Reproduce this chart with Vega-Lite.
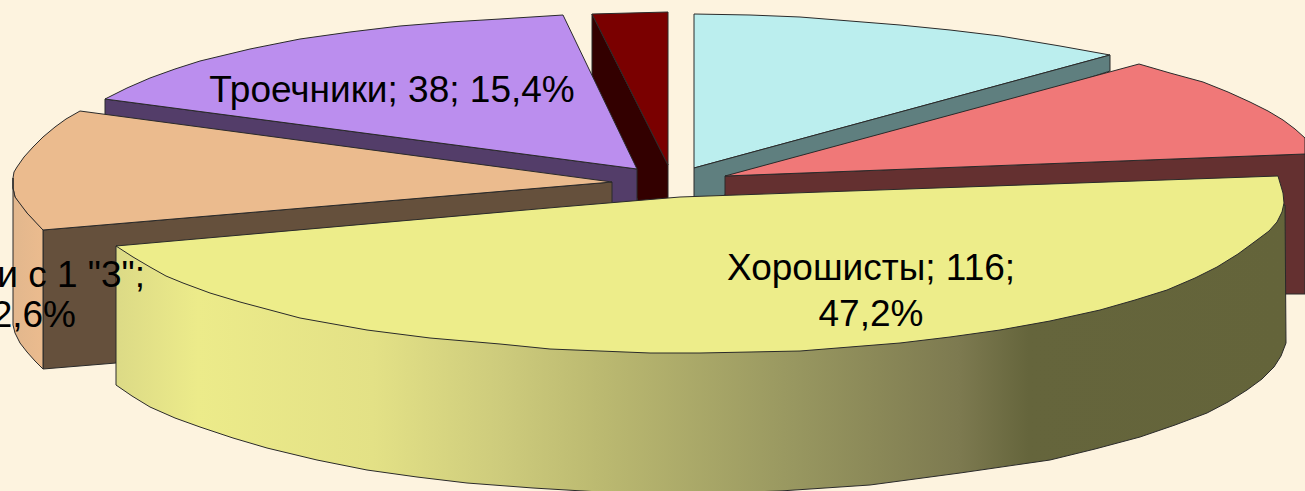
{
"$schema":"https://vega.github.io/schema/vega-lite/v6.json",
"width":1305,"height":491,"padding":0,"autosize":{"type":"none"},
"background":"#fdf3df",
"config":{"view":{"stroke":null}},
"datasets":{
"outline":[
{"p":"cyan top","i":0,"x":694,"y":14},{"p":"cyan top","i":1,"x":750,"y":15},{"p":"cyan top","i":2,"x":800,"y":17},{"p":"cyan top","i":3,"x":850,"y":21},{"p":"cyan top","i":4,"x":900,"y":25},{"p":"cyan top","i":5,"x":950,"y":30},{"p":"cyan top","i":6,"x":1000,"y":36},{"p":"cyan top","i":7,"x":1060,"y":46},{"p":"cyan top","i":8,"x":1110,"y":55},{"p":"cyan top","i":9,"x":694,"y":168},{"p":"cyan top","i":10,"x":694,"y":14},
{"p":"cyan side","i":0,"x":694,"y":168},{"p":"cyan side","i":1,"x":1110,"y":55},{"p":"cyan side","i":2,"x":1110,"y":71},{"p":"cyan side","i":3,"x":694,"y":205},{"p":"cyan side","i":4,"x":694,"y":168},
{"p":"maroon side","i":0,"x":592,"y":14},{"p":"maroon side","i":1,"x":668,"y":165},{"p":"maroon side","i":2,"x":668,"y":205},{"p":"maroon side","i":3,"x":640,"y":205},{"p":"maroon side","i":4,"x":592,"y":100},{"p":"maroon side","i":5,"x":592,"y":14},
{"p":"maroon top","i":0,"x":592,"y":14},{"p":"maroon top","i":1,"x":668,"y":12},{"p":"maroon top","i":2,"x":668,"y":165},{"p":"maroon top","i":3,"x":592,"y":14},
{"p":"purple side","i":0,"x":105,"y":99},{"p":"purple side","i":1,"x":637,"y":169},{"p":"purple side","i":2,"x":637,"y":205},{"p":"purple side","i":3,"x":612,"y":205},{"p":"purple side","i":4,"x":105,"y":130},{"p":"purple side","i":5,"x":105,"y":99},
{"p":"purple top","i":0,"x":105,"y":99},{"p":"purple top","i":1,"x":127,"y":88},{"p":"purple top","i":2,"x":150,"y":78},{"p":"purple top","i":3,"x":175,"y":69},{"p":"purple top","i":4,"x":200,"y":61},{"p":"purple top","i":5,"x":250,"y":49},{"p":"purple top","i":6,"x":300,"y":39},{"p":"purple top","i":7,"x":350,"y":32},{"p":"purple top","i":8,"x":400,"y":26},{"p":"purple top","i":9,"x":450,"y":22},{"p":"purple top","i":10,"x":500,"y":19},{"p":"purple top","i":11,"x":563,"y":15},{"p":"purple top","i":12,"x":637,"y":169},{"p":"purple top","i":13,"x":105,"y":99},
{"p":"brown side","i":0,"x":43,"y":230},{"p":"brown side","i":1,"x":612,"y":182},{"p":"brown side","i":2,"x":612,"y":215},{"p":"brown side","i":3,"x":130,"y":300},{"p":"brown side","i":4,"x":116,"y":363},{"p":"brown side","i":5,"x":43,"y":369},{"p":"brown side","i":6,"x":43,"y":230},
{"p":"peach top","i":0,"x":80,"y":111},{"p":"peach top","i":1,"x":612,"y":182},{"p":"peach top","i":2,"x":43,"y":230},{"p":"peach top","i":3,"x":35,"y":222},{"p":"peach top","i":4,"x":27,"y":213},{"p":"peach top","i":5,"x":20,"y":205},{"p":"peach top","i":6,"x":15,"y":197},{"p":"peach top","i":7,"x":13,"y":188},{"p":"peach top","i":8,"x":13,"y":178},{"p":"peach top","i":9,"x":14,"y":172},{"p":"peach top","i":10,"x":17,"y":167},{"p":"peach top","i":11,"x":24,"y":157},{"p":"peach top","i":12,"x":33,"y":147},{"p":"peach top","i":13,"x":43,"y":137},{"p":"peach top","i":14,"x":55,"y":127},{"p":"peach top","i":15,"x":66,"y":119},{"p":"peach top","i":16,"x":80,"y":111},
{"p":"red side","i":0,"x":725,"y":176},{"p":"red side","i":1,"x":1305,"y":154},{"p":"red side","i":2,"x":1305,"y":294},{"p":"red side","i":3,"x":1285,"y":294},{"p":"red side","i":4,"x":725,"y":300},{"p":"red side","i":5,"x":725,"y":176},
{"p":"red top","i":0,"x":725,"y":176},{"p":"red top","i":1,"x":1139,"y":64},{"p":"red top","i":2,"x":1170,"y":73},{"p":"red top","i":3,"x":1203,"y":82},{"p":"red top","i":4,"x":1228,"y":92},{"p":"red top","i":5,"x":1250,"y":102},{"p":"red top","i":6,"x":1268,"y":111},{"p":"red top","i":7,"x":1283,"y":120},{"p":"red top","i":8,"x":1295,"y":129},{"p":"red top","i":9,"x":1305,"y":138},{"p":"red top","i":10,"x":1305,"y":154},{"p":"red top","i":11,"x":725,"y":176},
{"p":"peach wall","i":0,"x":13,"y":178},{"p":"peach wall","i":1,"x":13,"y":188},{"p":"peach wall","i":2,"x":15,"y":197},{"p":"peach wall","i":3,"x":27,"y":213},{"p":"peach wall","i":4,"x":43,"y":230},{"p":"peach wall","i":5,"x":43,"y":369},{"p":"peach wall","i":6,"x":35,"y":361},{"p":"peach wall","i":7,"x":27,"y":352},{"p":"peach wall","i":8,"x":20,"y":343},{"p":"peach wall","i":9,"x":15,"y":333},{"p":"peach wall","i":10,"x":13,"y":325},{"p":"peach wall","i":11,"x":13,"y":315},{"p":"peach wall","i":12,"x":13,"y":178},
{"p":"yellow wall","i":0,"x":116,"y":246},{"p":"yellow wall","i":1,"x":116,"y":385},{"p":"yellow wall","i":2,"x":132,"y":396},{"p":"yellow wall","i":3,"x":150,"y":407},{"p":"yellow wall","i":4,"x":175,"y":418},{"p":"yellow wall","i":5,"x":200,"y":427},{"p":"yellow wall","i":6,"x":233,"y":438},{"p":"yellow wall","i":7,"x":267,"y":448},{"p":"yellow wall","i":8,"x":317,"y":460},{"p":"yellow wall","i":9,"x":367,"y":470},{"p":"yellow wall","i":10,"x":417,"y":477},{"p":"yellow wall","i":11,"x":467,"y":483},{"p":"yellow wall","i":12,"x":533,"y":488},{"p":"yellow wall","i":13,"x":600,"y":492},{"p":"yellow wall","i":14,"x":690,"y":494},{"p":"yellow wall","i":15,"x":780,"y":491},{"p":"yellow wall","i":16,"x":870,"y":485},{"p":"yellow wall","i":17,"x":960,"y":473},{"p":"yellow wall","i":18,"x":1050,"y":460},{"p":"yellow wall","i":19,"x":1095,"y":449},{"p":"yellow wall","i":20,"x":1140,"y":437},{"p":"yellow wall","i":21,"x":1175,"y":425},{"p":"yellow wall","i":22,"x":1207,"y":413},{"p":"yellow wall","i":23,"x":1228,"y":402},{"p":"yellow wall","i":24,"x":1247,"y":390},{"p":"yellow wall","i":25,"x":1262,"y":379},{"p":"yellow wall","i":26,"x":1274,"y":367},{"p":"yellow wall","i":27,"x":1281,"y":356},{"p":"yellow wall","i":28,"x":1286,"y":343},{"p":"yellow wall","i":29,"x":1285,"y":205},{"p":"yellow wall","i":30,"x":116,"y":246},
{"p":"yellow top","i":0,"x":116,"y":246},{"p":"yellow top","i":1,"x":560,"y":207},{"p":"yellow top","i":2,"x":680,"y":197},{"p":"yellow top","i":3,"x":1278,"y":176},{"p":"yellow top","i":4,"x":1283,"y":193},{"p":"yellow top","i":5,"x":1284,"y":203},{"p":"yellow top","i":6,"x":1282,"y":212},{"p":"yellow top","i":7,"x":1277,"y":222},{"p":"yellow top","i":8,"x":1269,"y":231},{"p":"yellow top","i":9,"x":1257,"y":240},{"p":"yellow top","i":10,"x":1238,"y":254},{"p":"yellow top","i":11,"x":1217,"y":267},{"p":"yellow top","i":12,"x":1195,"y":278},{"p":"yellow top","i":13,"x":1167,"y":290},{"p":"yellow top","i":14,"x":1135,"y":300},{"p":"yellow top","i":15,"x":1100,"y":310},{"p":"yellow top","i":16,"x":1050,"y":321},{"p":"yellow top","i":17,"x":1000,"y":330},{"p":"yellow top","i":18,"x":950,"y":337},{"p":"yellow top","i":19,"x":900,"y":343},{"p":"yellow top","i":20,"x":850,"y":347},{"p":"yellow top","i":21,"x":800,"y":351},{"p":"yellow top","i":22,"x":750,"y":352},{"p":"yellow top","i":23,"x":700,"y":353},{"p":"yellow top","i":24,"x":650,"y":353},{"p":"yellow top","i":25,"x":600,"y":351},{"p":"yellow top","i":26,"x":550,"y":349},{"p":"yellow top","i":27,"x":500,"y":344},{"p":"yellow top","i":28,"x":430,"y":338},{"p":"yellow top","i":29,"x":367,"y":330},{"p":"yellow top","i":30,"x":300,"y":318},{"p":"yellow top","i":31,"x":240,"y":302},{"p":"yellow top","i":32,"x":210,"y":293},{"p":"yellow top","i":33,"x":183,"y":283},{"p":"yellow top","i":34,"x":166,"y":276},{"p":"yellow top","i":35,"x":150,"y":267},{"p":"yellow top","i":36,"x":133,"y":257},{"p":"yellow top","i":37,"x":116,"y":246}
],
"labels":[
{"text":"Троечники; 38; 15,4%","x":392,"y":91,"anchor":"center"},
{"text":"Хорошисты; 116;","x":871,"y":269,"anchor":"center"},
{"text":"47,2%","x":871,"y":315,"anchor":"center"},
{"text":"Ударники с 1 \"3\";","x":145,"y":276,"anchor":"right"},
{"text":"31; 12,6%","x":76,"y":316,"anchor":"right"}
]},
"layer":[
{"data":{"name":"outline"},
 "transform":[{"filter":"datum.p !== 'peach wall' && datum.p !== 'yellow wall' && datum.p !== 'yellow top'"}],
 "mark":{"type":"line","stroke":"#2a2a2a","strokeWidth":1,"clip":true},
 "encoding":{
  "x":{"field":"x","type":"quantitative","scale":{"domain":[0,1305],"nice":false,"zero":false},"axis":null},
  "y":{"field":"y","type":"quantitative","scale":{"domain":[491,0],"nice":false,"zero":false},"axis":null},
  "order":{"field":"i"},
  "detail":{"field":"p"},
  "fill":{"field":"p","type":"nominal","legend":null,"sort":null,"scale":{
    "domain":["cyan top","cyan side","maroon side","maroon top","purple side","purple top","brown side","peach top","red side","red top"],
    "range":["#bbeeee","#5f7f7f","#330000","#7a0000","#533d69","#bb8eee","#65503c","#ebbb8e","#643030","#f07878"]}}
 }},
{"data":{"name":"outline"},
 "transform":[{"filter":"datum.p === 'peach wall'"}],
 "mark":{"type":"line","stroke":"#2a2a2a","strokeWidth":1,"clip":true,
  "fill":{"gradient":"linear","x1":0,"x2":1,"y1":0,"y2":0,"stops":[{"offset":0,"color":"#e2b78d"},{"offset":1,"color":"#ebbb8e"}]}},
 "encoding":{
  "x":{"field":"x","type":"quantitative","scale":{"domain":[0,1305],"nice":false,"zero":false},"axis":null},
  "y":{"field":"y","type":"quantitative","scale":{"domain":[491,0],"nice":false,"zero":false},"axis":null},
  "order":{"field":"i"}
 }},
{"data":{"name":"outline"},
 "transform":[{"filter":"datum.p === 'yellow wall'"}],
 "mark":{"type":"line","stroke":"#2a2a2a","strokeWidth":1,"clip":true,
  "fill":{"gradient":"linear","x1":0,"x2":1,"y1":0,"y2":0,"stops":[{"offset":0,"color":"#dcda86"},{"offset":0.07,"color":"#eceb8a"},{"offset":0.22,"color":"#e3e186"},{"offset":0.33,"color":"#cdcb7c"},{"offset":0.41,"color":"#bcba71"},{"offset":0.58,"color":"#989760"},{"offset":0.72,"color":"#7d7a50"},{"offset":0.78,"color":"#65653c"},{"offset":1,"color":"#64643a"}]}},
 "encoding":{
  "x":{"field":"x","type":"quantitative","scale":{"domain":[0,1305],"nice":false,"zero":false},"axis":null},
  "y":{"field":"y","type":"quantitative","scale":{"domain":[491,0],"nice":false,"zero":false},"axis":null},
  "order":{"field":"i"}
 }},
{"data":{"name":"outline"},
 "transform":[{"filter":"datum.p === 'yellow top'"}],
 "mark":{"type":"line","stroke":"#2a2a2a","strokeWidth":1,"clip":true,"fill":"#eded8a"},
 "encoding":{
  "x":{"field":"x","type":"quantitative","scale":{"domain":[0,1305],"nice":false,"zero":false},"axis":null},
  "y":{"field":"y","type":"quantitative","scale":{"domain":[491,0],"nice":false,"zero":false},"axis":null},
  "order":{"field":"i"}
 }},
{"data":{"name":"labels"},
 "transform":[{"filter":"datum.anchor === 'center'"}],
 "mark":{"type":"text","font":"Liberation Sans","fontSize":37,"color":"#000","align":"center","baseline":"middle","clip":true},
 "encoding":{
  "x":{"field":"x","type":"quantitative","scale":{"domain":[0,1305],"nice":false,"zero":false},"axis":null},
  "y":{"field":"y","type":"quantitative","scale":{"domain":[491,0],"nice":false,"zero":false},"axis":null},
  "text":{"field":"text"}
 }},
{"data":{"name":"labels"},
 "transform":[{"filter":"datum.anchor === 'right'"}],
 "mark":{"type":"text","font":"Liberation Sans","fontSize":37,"color":"#000","align":"right","baseline":"middle","clip":true},
 "encoding":{
  "x":{"field":"x","type":"quantitative","scale":{"domain":[0,1305],"nice":false,"zero":false},"axis":null},
  "y":{"field":"y","type":"quantitative","scale":{"domain":[491,0],"nice":false,"zero":false},"axis":null},
  "text":{"field":"text"}
 }}
]
}
